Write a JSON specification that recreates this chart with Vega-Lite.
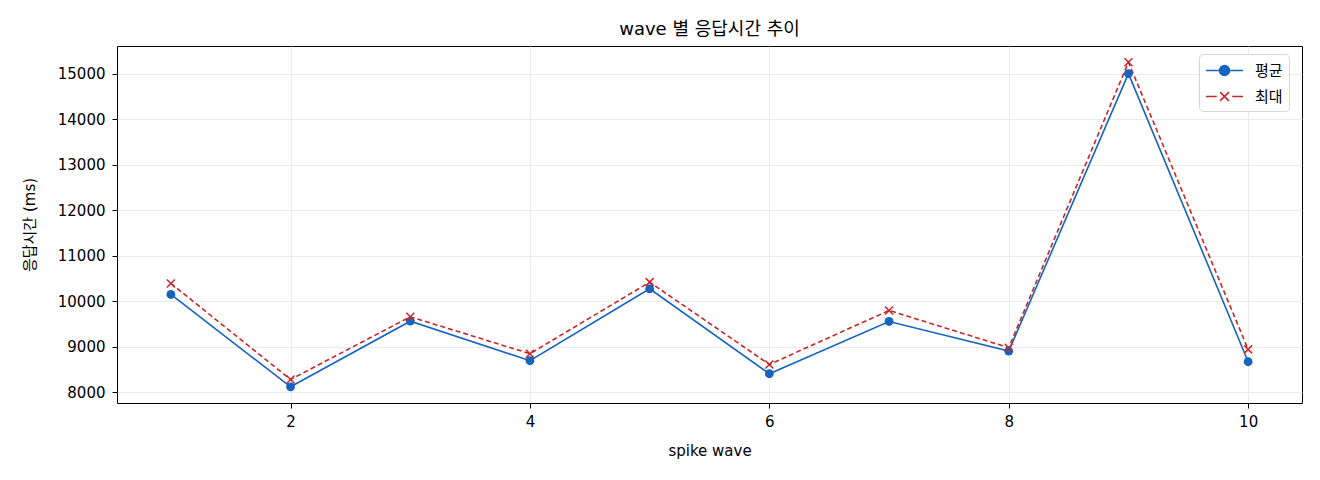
{
  "$schema": "https://vega.github.io/schema/vega-lite/v6.json",
  "description": "wave 별 응답시간 추이 (평균 / 최대)",
  "width": 1185,
  "height": 357,
  "autosize": {"type": "none"},
  "padding": {"left": 117, "top": 46, "right": 18, "bottom": 77},
  "title": {
    "text": "wave 별 응답시간 추이",
    "font": "DejaVu Sans, Noto Sans CJK KR",
    "fontSize": 18,
    "fontWeight": "normal",
    "color": "#000",
    "offset": 7
  },
  "config": {
    "font": "DejaVu Sans, Noto Sans CJK KR",
    "view": {"stroke": "#000", "strokeWidth": 1},
    "axis": {
      "domain": false,
      "gridColor": "#e6e6e6",
      "gridWidth": 0.8,
      "tickColor": "#000",
      "tickSize": 5,
      "labelFont": "DejaVu Sans, Noto Sans CJK KR",
      "labelFontSize": 15,
      "labelColor": "#000",
      "titleFont": "DejaVu Sans, Noto Sans CJK KR",
      "titleFontSize": 15,
      "titleFontWeight": "normal",
      "titleColor": "#000"
    },
    "legend": {
      "labelFont": "DejaVu Sans, Noto Sans CJK KR",
      "labelFontSize": 15,
      "labelColor": "#000",
      "labelOffset": 20,
      "strokeColor": "#d5d5d5",
      "fillColor": "#fff",
      "cornerRadius": 4,
      "padding": 6,
      "rowPadding": 7,
      "symbolOffset": 9
    }
  },
  "data": {
    "values": [
      {"wave": 1, "series": "평균", "ms": 10147},
      {"wave": 2, "series": "평균", "ms": 8119},
      {"wave": 3, "series": "평균", "ms": 9560},
      {"wave": 4, "series": "평균", "ms": 8692},
      {"wave": 5, "series": "평균", "ms": 10272},
      {"wave": 6, "series": "평균", "ms": 8406},
      {"wave": 7, "series": "평균", "ms": 9554},
      {"wave": 8, "series": "평균", "ms": 8903},
      {"wave": 9, "series": "평균", "ms": 15000},
      {"wave": 10, "series": "평균", "ms": 8670},
      {"wave": 1, "series": "최대", "ms": 10389},
      {"wave": 2, "series": "최대", "ms": 8280},
      {"wave": 3, "series": "최대", "ms": 9657},
      {"wave": 4, "series": "최대", "ms": 8846},
      {"wave": 5, "series": "최대", "ms": 10418},
      {"wave": 6, "series": "최대", "ms": 8609},
      {"wave": 7, "series": "최대", "ms": 9796},
      {"wave": 8, "series": "최대", "ms": 8978},
      {"wave": 9, "series": "최대", "ms": 15250},
      {"wave": 10, "series": "최대", "ms": 8941}
    ]
  },
  "encoding": {
    "x": {
      "field": "wave",
      "type": "quantitative",
      "scale": {"domain": [0.55, 10.45], "nice": false, "zero": false},
      "axis": {"title": "spike wave", "values": [2, 4, 6, 8, 10], "labelPadding": 6, "titlePadding": 14}
    },
    "y": {
      "field": "ms",
      "type": "quantitative",
      "scale": {"domain": [7763, 15606], "nice": false, "zero": false},
      "axis": {
        "title": "응답시간 (ms)",
        "values": [8000, 9000, 10000, 11000, 12000, 13000, 14000, 15000],
        "format": "d",
        "labelPadding": 7,
        "titlePadding": 20
      }
    },
    "color": {
      "field": "series",
      "type": "nominal",
      "scale": {"domain": ["평균", "최대"], "range": ["#1565c0", "#c62828"]},
      "legend": {"orient": "none", "legendX": 1082, "legendY": 8, "title": null, "symbolSize": 342, "symbolStrokeWidth": 1.6}
    }
  },
  "layer": [
    {
      "transform": [{"filter": "datum.series === '평균'"}],
      "mark": {"type": "line", "strokeWidth": 1.6}
    },
    {
      "transform": [{"filter": "datum.series === '최대'"}],
      "mark": {"type": "line", "strokeWidth": 1.6, "strokeDash": [5, 3]}
    },
    {
      "transform": [{"filter": "datum.series === '평균'"}],
      "mark": {"type": "point", "shape": "circle", "filled": true, "opacity": 1, "size": 78}
    },
    {
      "transform": [{"filter": "datum.series === '최대'"}],
      "mark": {
        "type": "point",
        "shape": "M-1,-1L1,1M-1,1L1,-1",
        "filled": false,
        "opacity": 1,
        "size": 64,
        "strokeWidth": 1.5
      }
    },
    {
      "transform": [{"filter": "false"}],
      "mark": {"type": "point", "filled": true, "opacity": 1},
      "encoding": {
        "shape": {
          "field": "series",
          "type": "nominal",
          "scale": {
            "domain": ["평균", "최대"],
            "range": [
              "M-2,0H-0.54M0.54,0H2M0.54,0A0.54,0.54,0,1,1,-0.54,0A0.54,0.54,0,1,1,0.54,0Z",
              "M-2,0H-0.84M0.84,0H2M-0.48,-0.48L0.48,0.48M-0.48,0.48L0.48,-0.48"
            ]
          },
          "legend": {"orient": "none", "legendX": 1082, "legendY": 8, "title": null, "symbolSize": 342, "symbolStrokeWidth": 1.6}
        }
      }
    }
  ]
}
